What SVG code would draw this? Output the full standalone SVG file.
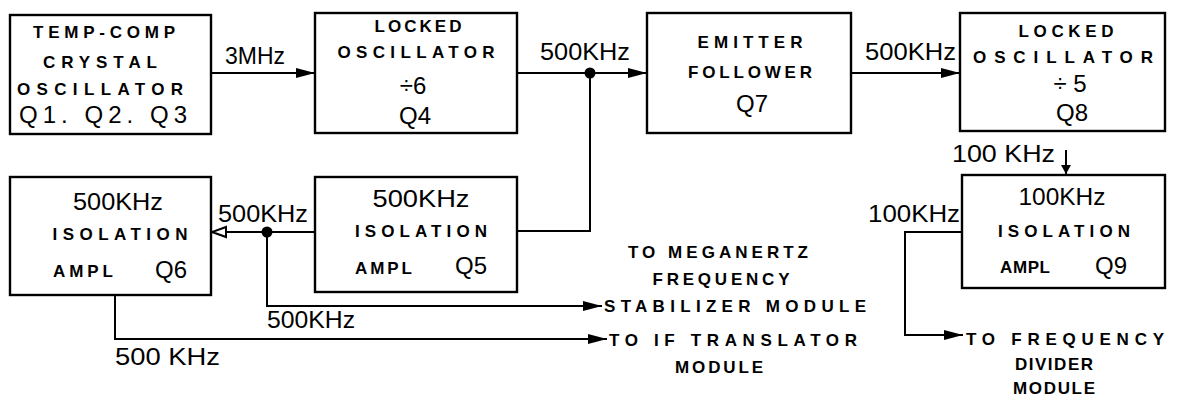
<svg xmlns="http://www.w3.org/2000/svg" width="1178" height="398" viewBox="0 0 1178 398">
<defs>
<style>
.box{fill:#fff;stroke:#000;stroke-width:2.4}
.ln{fill:none;stroke:#000;stroke-width:2}
.sm{font-family:"Liberation Sans",Arial,sans-serif;font-weight:bold;font-size:17px;fill:#000}
.big{font-family:"Liberation Sans",Arial,sans-serif;font-size:24px;fill:#000}
.lab{font-family:"Liberation Sans",Arial,sans-serif;font-size:24px;fill:#000}
.out{font-family:"Liberation Sans",Arial,sans-serif;font-weight:bold;font-size:17px;fill:#000}
</style>
<marker id="ah" markerWidth="20" markerHeight="12" refX="19" refY="6" orient="auto" markerUnits="userSpaceOnUse">
<path d="M0,1 L19,6 L0,11 Z" fill="#000"/>
</marker>
<marker id="oh" markerWidth="18" markerHeight="14" refX="16" refY="7" orient="auto" markerUnits="userSpaceOnUse">
<path d="M16,7 L2,2 L2,12 Z" fill="#fff" stroke="#000" stroke-width="2"/>
</marker>
<marker id="sah" markerWidth="12" markerHeight="12" refX="6" refY="11" orient="0" markerUnits="userSpaceOnUse">
<path d="M1,2 L6,11 L11,2 Z" fill="#000"/>
</marker>
</defs>
<rect width="1178" height="398" fill="#fff"/>

<g id="connectors">
<path class="ln" d="M211,73 H315" marker-end="url(#ah)"/>
<path class="ln" d="M517,73 H647" marker-end="url(#ah)"/>
<circle cx="590" cy="73" r="5.5" fill="#000"/>
<path class="ln" d="M590,73 V231 H517" stroke-width="1.5"/>
<path class="ln" d="M851,73 H960" marker-end="url(#ah)"/>
<path class="ln" d="M1066,150 V174" stroke-width="1.5" marker-end="url(#sah)"/>
<path class="ln" d="M315,232 H212" marker-end="url(#oh)"/>
<circle cx="267" cy="232" r="5.5" fill="#000"/>
<path class="ln" d="M267,232 V306 H602" marker-end="url(#ah)"/>
<path class="ln" d="M115,295 V339 H607" marker-end="url(#ah)"/>
<path class="ln" d="M962,232 H905 V335 H963" marker-end="url(#ah)"/>
<text class="lab" x="225" y="64" textLength="60" lengthAdjust="spacingAndGlyphs">3MHz</text>
<text class="lab" x="540" y="60" textLength="90" lengthAdjust="spacingAndGlyphs">500KHz</text>
<text class="lab" x="865" y="60" textLength="91" lengthAdjust="spacingAndGlyphs">500KHz</text>
<text class="lab" x="952" y="162" textLength="103" lengthAdjust="spacingAndGlyphs">100 KHz</text>
<text class="lab" x="218" y="222" textLength="90" lengthAdjust="spacingAndGlyphs">500KHz</text>
<text class="lab" x="267" y="328" textLength="88" lengthAdjust="spacingAndGlyphs">500KHz</text>
<text class="lab" x="115" y="365" textLength="105" lengthAdjust="spacingAndGlyphs">500 KHz</text>
<text class="lab" x="868" y="222" textLength="92" lengthAdjust="spacingAndGlyphs">100KHz</text>
</g>

<g id="n1">
<rect class="box" x="10" y="15" width="201" height="119"/>
<text class="sm" x="104" y="38" text-anchor="middle" textLength="142" lengthAdjust="spacing">TEMP-COMP</text>
<text class="sm" x="100" y="68" text-anchor="middle" textLength="114" lengthAdjust="spacing">CRYSTAL</text>
<text class="sm" x="100" y="95" text-anchor="middle" textLength="166" lengthAdjust="spacing">OSCILLATOR</text>
<text class="big" x="103" y="123" text-anchor="middle" textLength="168" lengthAdjust="spacing">Q1. Q2. Q3</text>
</g>

<g id="n2">
<rect class="box" x="315" y="13" width="202" height="120"/>
<text class="sm" x="418" y="32" text-anchor="middle" textLength="87" lengthAdjust="spacing">LOCKED</text>
<text class="sm" x="416" y="58" text-anchor="middle" textLength="157" lengthAdjust="spacing">OSCILLATOR</text>
<text class="big" x="413" y="94" text-anchor="middle" font-size="26">÷6</text>
<text class="big" x="415" y="124" text-anchor="middle">Q4</text>
</g>

<g id="n3">
<rect class="box" x="647" y="13" width="204" height="120"/>
<text class="sm" x="750" y="48" text-anchor="middle" textLength="105" lengthAdjust="spacing">EMITTER</text>
<text class="sm" x="750" y="78" text-anchor="middle" textLength="124" lengthAdjust="spacing">FOLLOWER</text>
<text class="big" x="752" y="112" text-anchor="middle">Q7</text>
</g>

<g id="n4">
<rect class="box" x="960" y="13" width="205" height="118"/>
<text class="sm" x="1066" y="37" text-anchor="middle" textLength="95" lengthAdjust="spacing">LOCKED</text>
<text class="sm" x="1063" y="63" text-anchor="middle" textLength="180" lengthAdjust="spacing">OSCILLATOR</text>
<text class="big" x="1070" y="92" text-anchor="middle" font-size="25">÷ 5</text>
<text class="big" x="1072" y="121" text-anchor="middle">Q8</text>
</g>

<g id="n5">
<rect class="box" x="10" y="177" width="201" height="118"/>
<text class="lab" x="118" y="210" text-anchor="middle" textLength="90" lengthAdjust="spacingAndGlyphs">500KHz</text>
<text class="sm" x="120" y="240" text-anchor="middle" textLength="135" lengthAdjust="spacing">ISOLATION</text>
<text class="sm" x="53" y="277" textLength="60" lengthAdjust="spacing">AMPL</text>
<text class="big" x="155" y="278">Q6</text>
</g>

<g id="n6">
<rect class="box" x="315" y="177" width="202" height="115"/>
<text class="lab" x="421" y="207" text-anchor="middle" textLength="97" lengthAdjust="spacingAndGlyphs">500KHz</text>
<text class="sm" x="421" y="237" text-anchor="middle" textLength="132" lengthAdjust="spacing">ISOLATION</text>
<text class="sm" x="355" y="274" textLength="57" lengthAdjust="spacing">AMPL</text>
<text class="big" x="455" y="274">Q5</text>
</g>

<g id="n7">
<rect class="box" x="962" y="175" width="203" height="113"/>
<text class="lab" x="1062" y="205" text-anchor="middle" textLength="87" lengthAdjust="spacingAndGlyphs">100KHz</text>
<text class="sm" x="1064" y="237" text-anchor="middle" textLength="132" lengthAdjust="spacing">ISOLATION</text>
<text class="sm" x="1000" y="273" textLength="50" lengthAdjust="spacing">AMPL</text>
<text class="big" x="1095" y="274">Q9</text>
</g>

<g id="outputs">
<text class="out" x="718" y="258" text-anchor="middle" textLength="180" lengthAdjust="spacing">TO MEGANERTZ</text>
<text class="out" x="721" y="285" text-anchor="middle" textLength="137" lengthAdjust="spacing">FREQUENCY</text>
<text class="out" x="604" y="312" textLength="262" lengthAdjust="spacing">STABILIZER MODULE</text>
<text class="out" x="609" y="346" textLength="248" lengthAdjust="spacing">TO IF TRANSLATOR</text>
<text class="out" x="719" y="373" text-anchor="middle" textLength="88" lengthAdjust="spacing">MODULE</text>
<text class="out" x="966" y="345" textLength="198" lengthAdjust="spacing">TO FREQUENCY</text>
<text class="out" x="1054" y="370" text-anchor="middle" textLength="78" lengthAdjust="spacing">DIVIDER</text>
<text class="out" x="1054" y="394" text-anchor="middle" textLength="82" lengthAdjust="spacing">MODULE</text>
</g>
</svg>
